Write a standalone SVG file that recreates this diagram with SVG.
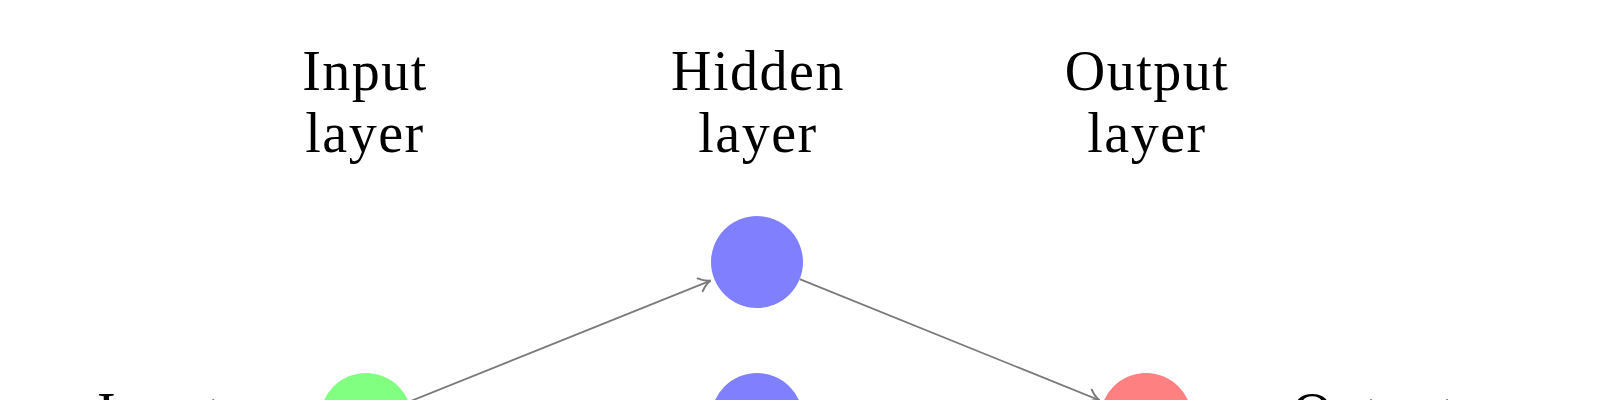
<svg xmlns="http://www.w3.org/2000/svg" width="1600" height="400" viewBox="0 0 1600 400">
<style>
  .lbl { font-family: "Liberation Serif", "DejaVu Serif", serif; font-size: 56px; letter-spacing: 1.5px; fill: #000; }
  .mid { text-anchor: middle; }
  .edge { stroke: #7a7a7a; stroke-width: 1.8; fill: none; marker-end: url(#arr); }
  .in { fill: #80ff80; }
  .hid { fill: #8080ff; }
  .out { fill: #ff8080; }
</style>
<defs>
  <marker id="arr" markerUnits="userSpaceOnUse" markerWidth="20" markerHeight="20" refX="0" refY="0" viewBox="-12 -8 14 16" orient="auto" overflow="visible">
    <path d="M -9 -5.5 C -6 -2.5 -2.5 -0.6 0 0 C -2.5 0.6 -6 2.5 -9 5.5" stroke="#7a7a7a" stroke-width="1.6" fill="none" stroke-linecap="round"/>
  </marker>
</defs>
<rect width="1600" height="400" fill="#ffffff"/>
<g id="headers">
  <text class="lbl mid" x="365" y="90">Input</text>
  <text class="lbl mid" x="365" y="152">layer</text>
  <text class="lbl mid" x="758" y="90">Hidden</text>
  <text class="lbl mid" x="758" y="152">layer</text>
  <text class="lbl mid" x="1147" y="90">Output</text>
  <text class="lbl mid" x="1147" y="152">layer</text>
</g>
<g id="connectors">
  <line class="edge" x1="408.7" y1="401.9" x2="710.6" y2="280.6"/>
  <line class="edge" x1="799.7" y1="279.2" x2="1099.6" y2="400.3"/>
</g>
<g id="input-node">
  <circle class="in" cx="366" cy="419" r="46"/>
  <text class="lbl" x="97" y="432">Input</text>
</g>
<g id="hidden-node-1">
  <circle class="hid" cx="757" cy="262" r="46"/>
</g>
<g id="hidden-node-2">
  <circle class="hid" cx="757" cy="419" r="46"/>
</g>
<g id="output-node">
  <circle class="out" cx="1146" cy="419" r="46"/>
  <text class="lbl" x="1292" y="432">Output</text>
</g>
</svg>
